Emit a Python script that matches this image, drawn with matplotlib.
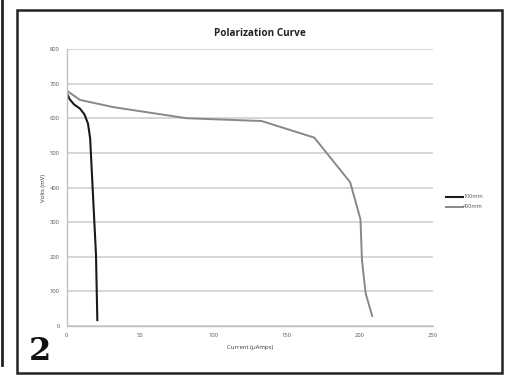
import matplotlib
matplotlib.use("Agg")
import matplotlib.pyplot as plt
from matplotlib.patches import Rectangle
from matplotlib.lines import Line2D

plt.rcParams['font.family'] = ['Open Sans', 'DejaVu Sans']

x_100 = [0, 2, 5, 9, 12, 14.5, 16, 20, 20.9]
y_100 = [674, 655, 640, 628, 612, 585, 542, 205, 17]
x_400 = [0, 9, 32, 82, 133, 169, 193.5, 200.5, 201.5, 204, 208.5]
y_400 = [680, 653, 632, 600, 592, 544, 415, 308, 191, 95, 29]
series_names = ['100mm', '400mm']
yticks = [0, 100, 200, 300, 400, 500, 600, 700, 800]
xticks = [0, 50, 100, 150, 200, 250]

W, H = 508, 381
fig = plt.figure(figsize=(W / 100, H / 100), dpi=100)
ax = fig.add_axes([66.7 / W, 1 - 326 / H, (433 - 66.7) / W, (326 - 49) / H])

ax.plot(x_100, y_100, color='#1a1a1a', lw=1.5, label=series_names[0], solid_joinstyle='round')
ax.plot(x_400, y_400, color='#888888', lw=1.4, label=series_names[1], solid_joinstyle='round')

ax.set_xlim(0, 250)
ax.set_ylim(0, 800)
ax.set_xticks(xticks)
ax.set_yticks(yticks)
ax.tick_params(length=0, labelsize=4.2, labelcolor='#555555', pad=5)
ax.yaxis.grid(True, color='#cccccc', lw=1.1)
ax.set_axisbelow(True)
for s in ['top', 'right']:
    ax.spines[s].set_visible(False)
ax.spines['left'].set_color('#c0c0c0')
ax.spines['bottom'].set_color('#c0c0c0')
ax.spines['left'].set_linewidth(1.0)
ax.spines['bottom'].set_linewidth(1.0)

fig.text(259.5 / W, 1 - 33 / H, 'Polarization Curve', fontsize=7.2, fontweight='bold',
         color='#222222', ha='center', va='center')
ax.set_xlabel('Current (µAmps)', fontsize=4.3, color='#333333', labelpad=5)
ax.set_ylabel('Volts (mV)', fontsize=4.3, color='#333333', labelpad=3)

handles = [Line2D([], [], color='#1a1a1a', lw=1.5), Line2D([], [], color='#888888', lw=1.4)]
fig.legend(handles, series_names, loc='center left', bbox_to_anchor=(441 / W, 1 - 202 / H),
           frameon=False, fontsize=4, handlelength=3, labelspacing=0.9, handletextpad=0.1,
           labelcolor='#555555')

fig.patches.append(Rectangle((17 / W, 1 - 373 / H), (502 - 17) / W, (373 - 10) / H,
                             transform=fig.transFigure, fill=False, ec='#222222', lw=1.8))
fig.lines.append(Line2D([2 / W, 2 / W], [1 - 365 / H, 1.0], transform=fig.transFigure,
                        color='#222222', lw=2.0))

fig.text(40 / W, 1 - 351 / H, '2', fontsize=23, fontweight='bold', family='DejaVu Serif',
         ha='center', va='center', color='#111111')

fig.savefig('out.png', dpi=100)
